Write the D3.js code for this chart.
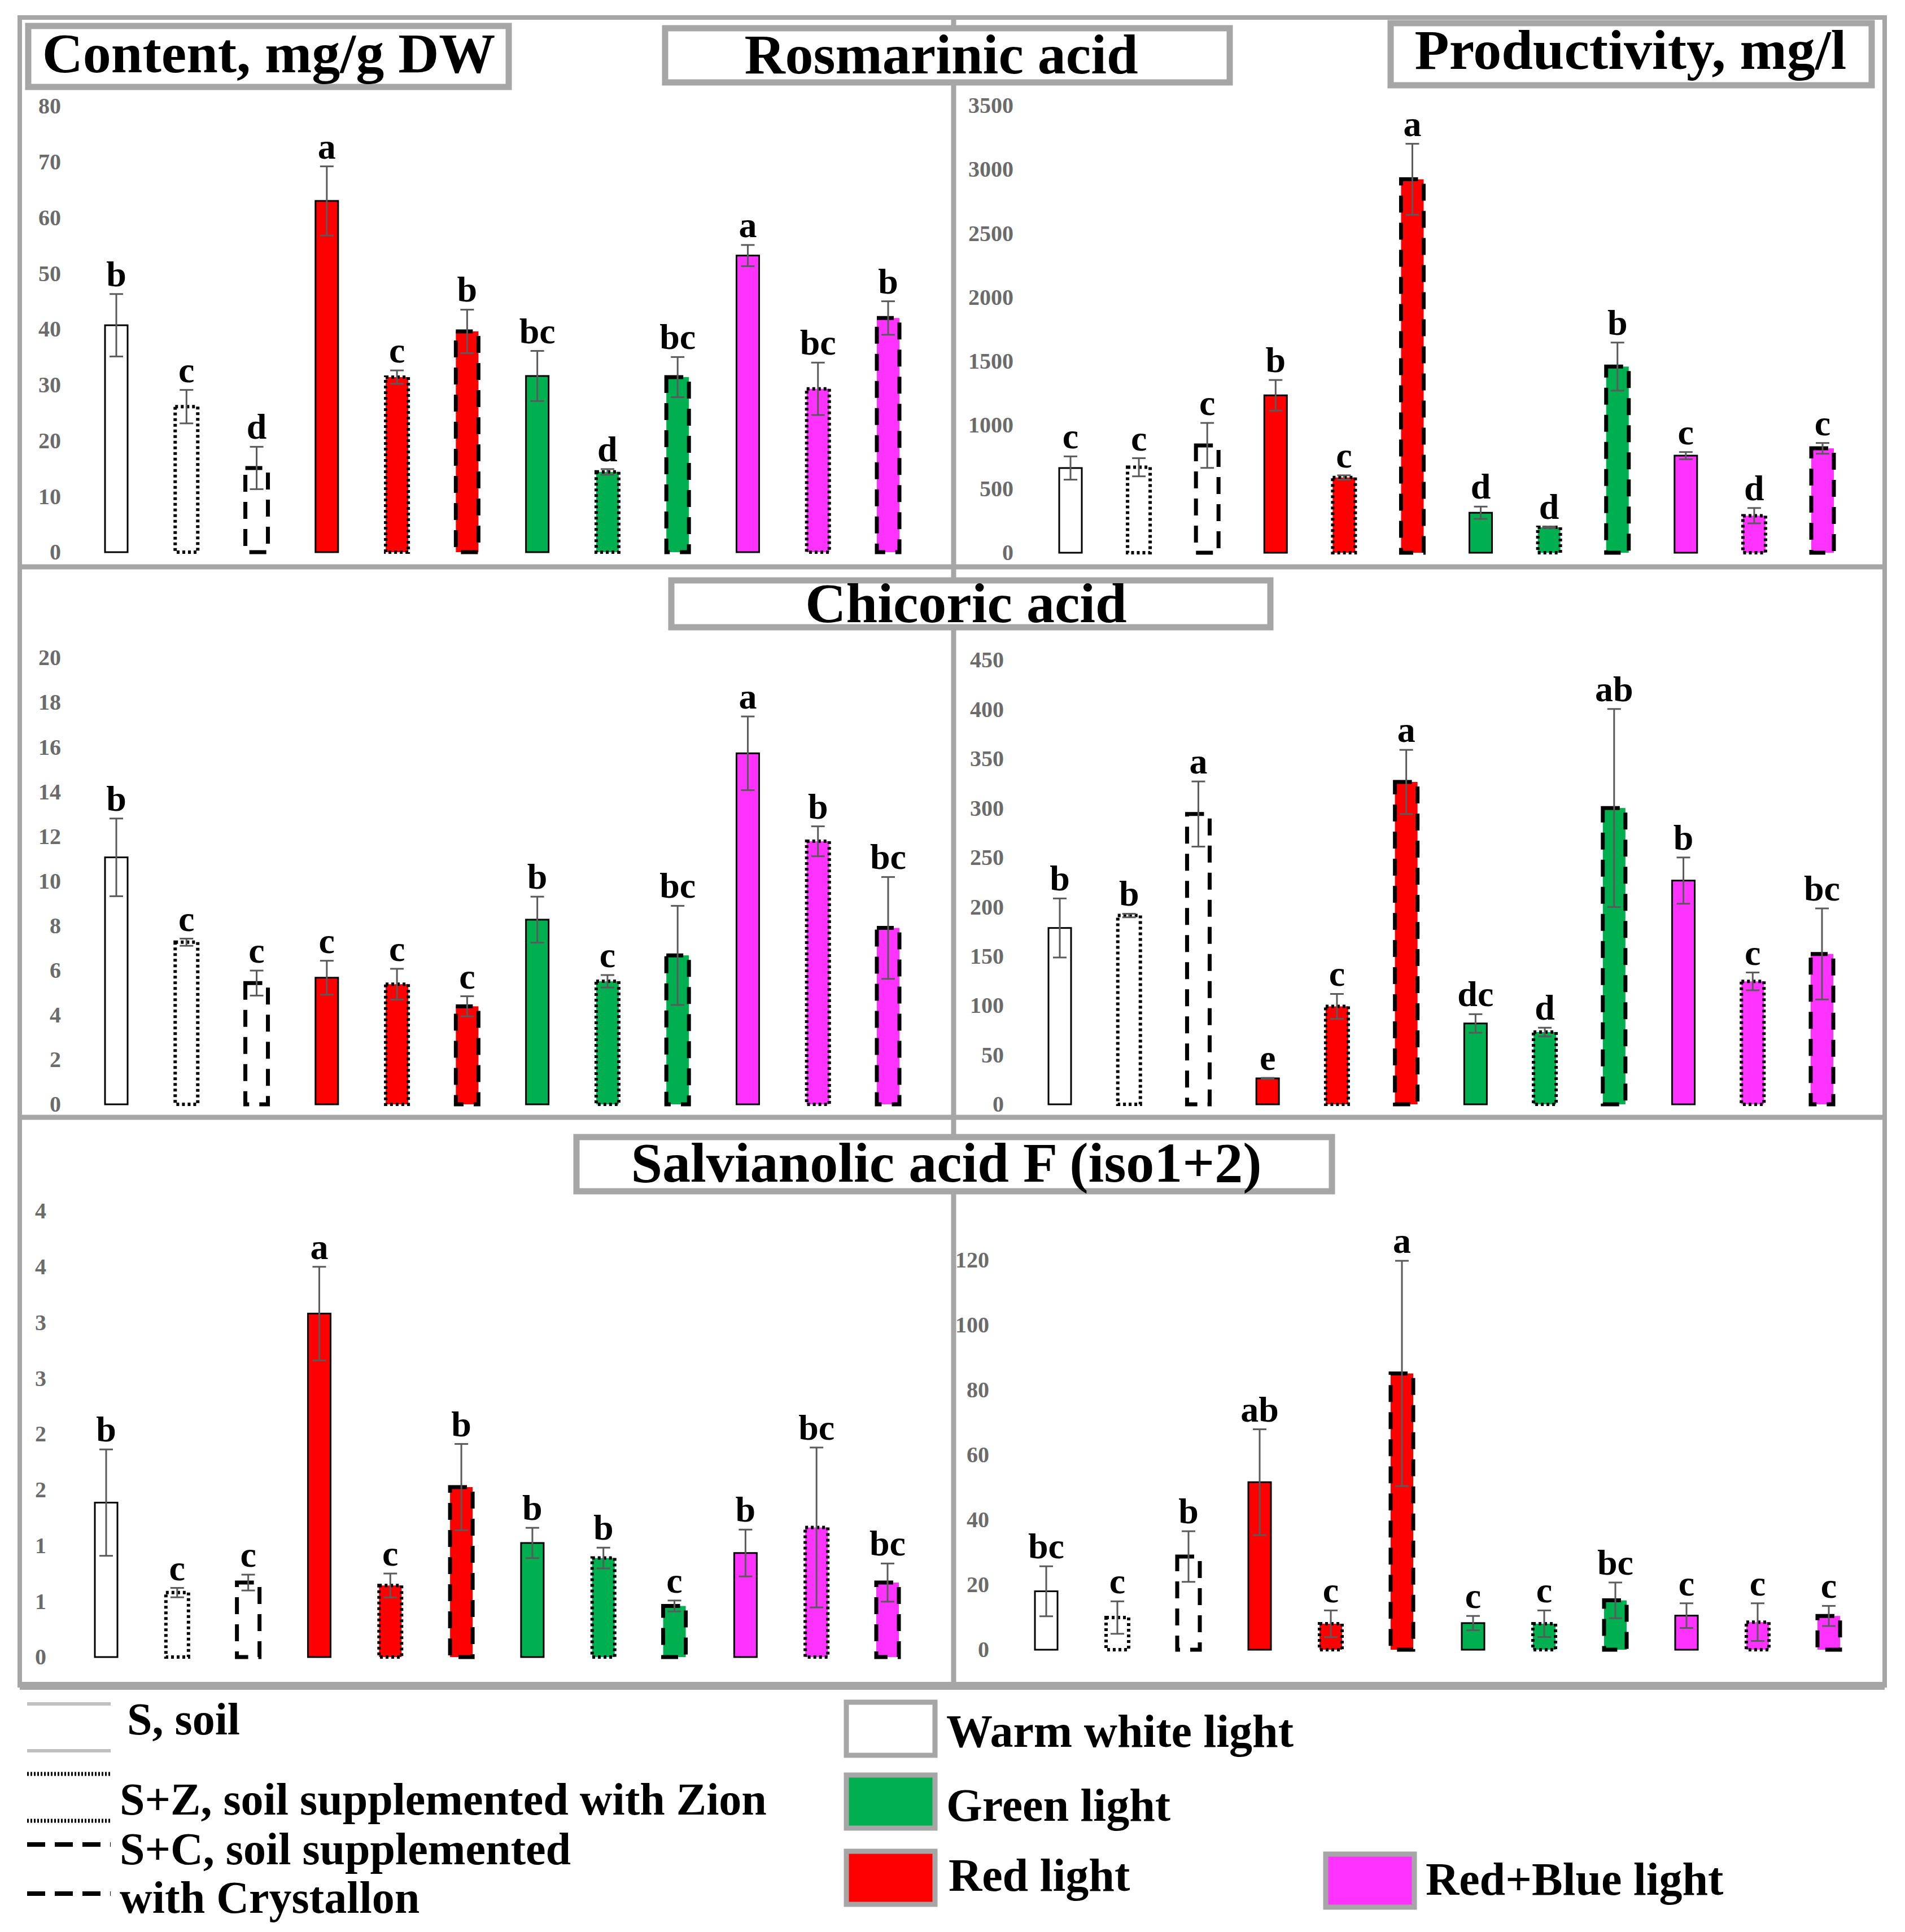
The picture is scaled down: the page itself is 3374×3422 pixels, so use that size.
<!DOCTYPE html>
<html>
<head>
<meta charset="utf-8">
<script src="https://cdn.jsdelivr.net/npm/d3@7"></script>
<style>
body { margin: 0; background: #fff; }
svg text { font-family: "Liberation Serif", "Times New Roman", serif; }
</style>
</head>
<body>
<div id="chart"></div>
<script>
// 12 treatments: light x substrate
var categories = ["WW S", "WW S+Z", "WW S+C", "R S", "R S+Z", "R S+C",
                  "G S", "G S+Z", "G S+C", "RB S", "RB S+Z", "RB S+C"];
var barLight = ["white", "white", "white", "red", "red", "red",
                "green", "green", "green", "redblue", "redblue", "redblue"];
var barSubstrate = ["S", "S+Z", "S+C", "S", "S+Z", "S+C",
                    "S", "S+Z", "S+C", "S", "S+Z", "S+C"];

// Rosmarinic acid
var raContent = [40.7, 26.1, 15.1, 63.0, 31.4, 39.6, 31.6, 14.4, 31.4, 53.2, 29.3, 42.0];
var raContentErr = [5.6, 3.0, 3.8, 6.2, 1.2, 3.9, 4.5, 0.5, 3.6, 1.9, 4.7, 3.0];
var raContentLetters = ["b", "c", "d", "a", "c", "b", "bc", "d", "bc", "a", "bc", "b"];
var raContentTicks = [0, 10, 20, 30, 40, 50, 60, 70, 80];

var raProd = [663, 669, 840, 1232, 589, 2923, 313, 199, 1457, 760, 290, 817];
var raProdErr = [91, 71, 176, 120, 17, 278, 48, 6, 188, 28, 60, 42];
var raProdLetters = ["c", "c", "c", "b", "c", "a", "d", "d", "b", "c", "d", "c"];
var raProdTicks = [0, 500, 1000, 1500, 2000, 2500, 3000, 3500];

// Chicoric acid
var caContent = [11.06, 7.26, 5.43, 5.67, 5.38, 4.39, 8.27, 5.51, 6.67, 15.72, 11.78, 7.90];
var caContentErr = [1.74, 0.16, 0.56, 0.76, 0.69, 0.45, 1.03, 0.28, 2.22, 1.65, 0.67, 2.28];
var caContentLetters = ["b", "c", "c", "c", "c", "c", "b", "c", "bc", "a", "b", "bc"];
var caContentTicks = [0, 2, 4, 6, 8, 10, 12, 14, 16, 18, 20];

var caProd = [178.6, 191.2, 294, 26.3, 99.2, 326.5, 81.9, 73.2, 300.1, 226.6, 124.5, 152.3];
var caProdErr = [29.9, 1.8, 33, 0.5, 12.6, 32.5, 9.4, 4.4, 100.3, 23.4, 9.0, 46.1];
var caProdLetters = ["b", "b", "a", "e", "c", "a", "dc", "d", "ab", "b", "c", "bc"];
var caProdTicks = [0, 50, 100, 150, 200, 250, 300, 350, 400, 450];

// Salvianolic acid F (iso1+2)
var saContent = [1.385, 0.578, 0.668, 3.08, 0.642, 1.524, 1.023, 0.888, 0.458, 0.933, 1.162, 0.668];
var saContentErr = [0.477, 0.042, 0.071, 0.42, 0.107, 0.387, 0.136, 0.093, 0.049, 0.21, 0.717, 0.171];
var saContentLetters = ["b", "c", "c", "a", "c", "b", "b", "b", "c", "b", "bc", "bc"];
var saContentTicks = [0, 0.5, 1, 1.5, 2, 2.5, 3, 3.5, 4];
var saContentTickLabels = ["0", "1", "1", "2", "2", "3", "3", "4", "4"];

var saProd = [18.0, 9.9, 28.7, 51.6, 8.0, 85.1, 8.2, 8.0, 15.2, 10.5, 8.5, 10.4];
var saProdErr = [7.7, 5.0, 7.8, 16.3, 4.1, 34.7, 2.2, 4.1, 5.5, 3.8, 5.8, 3.1];
var saProdLetters = ["bc", "c", "b", "ab", "c", "a", "c", "c", "bc", "c", "c", "c"];
var saProdTicks = [0, 20, 40, 60, 80, 100, 120];

var lightNames = ["Warm white light", "Green light", "Red light", "Red+Blue light"];
var lightKeys = ["white", "green", "red", "redblue"];
var substrateNames = ["S, soil", "S+Z, soil supplemented with Zion", "S+C, soil supplemented", "with Crystallon"];

var colors = { white: "#ffffff", red: "#ff0000", green: "#00b050", redblue: "#ff33ff" };
var strokes = {
    "S":   { dash: null,    w: 3 },
    "S+Z": { dash: "5,5",   w: 6 },
    "S+C": { dash: "30,18", w: 7 }
};
var frameGray = "#a6a6a6";

var W = 3374, H = 3422;
var svg = d3.select("#chart").append("svg")
    .attr("width", W)
    .attr("height", H)
    .attr("viewBox", "0 0 " + W + " " + H);

svg.append("rect").attr("width", W).attr("height", H).attr("fill", "#fff");

// frame and dividers
var frame = svg.append("g").attr("stroke", frameGray).attr("fill", "none");
frame.append("rect").attr("x", 35).attr("y", 31).attr("width", 3303).attr("height", 2954).attr("stroke-width", 8);
frame.append("line").attr("x1", 35).attr("x2", 3338).attr("y1", 2986).attr("y2", 2986).attr("stroke-width", 14);
frame.append("line").attr("x1", 1689).attr("x2", 1689).attr("y1", 31).attr("y2", 2985).attr("stroke-width", 9);
frame.append("line").attr("x1", 35).attr("x2", 3338).attr("y1", 1004).attr("y2", 1004).attr("stroke-width", 9);
frame.append("line").attr("x1", 35).attr("x2", 3338).attr("y1", 1979).attr("y2", 1979).attr("stroke-width", 9);

function drawPanel(p) {
    var x = d3.scalePoint().domain(categories).range([p.x0, p.x1]);
    var y = d3.scaleLinear().domain(p.domain).range([p.yBottom, p.yTop]);
    var g = svg.append("g");
    var bw = 40;

    // y axis labels only
    var ax = g.append("g")
        .attr("transform", "translate(" + p.tickX + ",0)")
        .call(d3.axisLeft(y).tickValues(p.ticks).tickSize(0).tickPadding(0)
            .tickFormat(function (d, i) { return p.tickLabels ? p.tickLabels[i] : d; }));
    ax.select(".domain").remove();
    ax.selectAll("text")
        .attr("font-family", "Liberation Serif, serif")
        .attr("font-size", 40)
        .attr("font-weight", "bold")
        .attr("fill", "#6b6b6b");

    // bars
    g.selectAll(".bar")
        .data(categories)
        .enter().append("rect")
        .attr("class", "bar")
        .attr("x", function (d) { return x(d) - bw / 2; })
        .attr("y", function (d, i) { return y(p.values[i]); })
        .attr("width", bw)
        .attr("height", function (d, i) { return p.yBottom - y(p.values[i]); })
        .attr("fill", function (d, i) { return colors[barLight[i]]; })
        .attr("stroke", "#000")
        .attr("stroke-width", function (d, i) { return strokes[barSubstrate[i]].w; })
        .attr("stroke-dasharray", function (d, i) { return strokes[barSubstrate[i]].dash; });

    // error bars
    var eb = g.selectAll(".err")
        .data(categories)
        .enter().append("g")
        .attr("class", "err")
        .attr("stroke", "#5a5a5a")
        .attr("stroke-width", 3);
    eb.append("line")
        .attr("x1", function (d) { return x(d); })
        .attr("x2", function (d) { return x(d); })
        .attr("y1", function (d, i) { return y(p.values[i] + p.err[i]); })
        .attr("y2", function (d, i) { return y(p.values[i] - p.err[i]); });
    eb.append("line")
        .attr("x1", function (d) { return x(d) - 12; })
        .attr("x2", function (d) { return x(d) + 12; })
        .attr("y1", function (d, i) { return y(p.values[i] + p.err[i]); })
        .attr("y2", function (d, i) { return y(p.values[i] + p.err[i]); });
    eb.append("line")
        .attr("x1", function (d) { return x(d) - 12; })
        .attr("x2", function (d) { return x(d) + 12; })
        .attr("y1", function (d, i) { return y(p.values[i] - p.err[i]); })
        .attr("y2", function (d, i) { return y(p.values[i] - p.err[i]); });

    // significance letters
    g.selectAll(".letter")
        .data(categories)
        .enter().append("text")
        .attr("class", "letter")
        .attr("x", function (d) { return x(d); })
        .attr("y", function (d, i) { return y(p.values[i] + p.err[i]) - 14; })
        .attr("text-anchor", "middle")
        .attr("font-size", 64)
        .attr("font-weight", "bold")
        .attr("fill", "#000")
        .text(function (d, i) { return p.letters[i]; });
}

drawPanel({ values: raContent, err: raContentErr, letters: raContentLetters, ticks: raContentTicks,
    domain: [0, 80], x0: 206, x1: 1573, yBottom: 978, yTop: 188, tickX: 108 });
drawPanel({ values: raProd, err: raProdErr, letters: raProdLetters, ticks: raProdTicks,
    domain: [0, 3500], x0: 1896, x1: 3228, yBottom: 979, yTop: 187, tickX: 1795 });
drawPanel({ values: caContent, err: caContentErr, letters: caContentLetters, ticks: caContentTicks,
    domain: [0, 20], x0: 206, x1: 1573, yBottom: 1956, yTop: 1165, tickX: 108 });
drawPanel({ values: caProd, err: caProdErr, letters: caProdLetters, ticks: caProdTicks,
    domain: [0, 450], x0: 1877, x1: 3227, yBottom: 1956, yTop: 1169, tickX: 1778 });
drawPanel({ values: saContent, err: saContentErr, letters: saContentLetters, ticks: saContentTicks,
    tickLabels: saContentTickLabels,
    domain: [0, 4], x0: 188, x1: 1572, yBottom: 2935, yTop: 2145, tickX: 82 });
drawPanel({ values: saProd, err: saProdErr, letters: saProdLetters, ticks: saProdTicks,
    domain: [0, 120], x0: 1853, x1: 3239, yBottom: 2922, yTop: 2232, tickX: 1752 });

// title boxes
function titleBox(x, y, w, h, label, cx, base) {
    svg.append("rect")
        .attr("x", x).attr("y", y).attr("width", w).attr("height", h)
        .attr("fill", "#fff").attr("stroke", frameGray).attr("stroke-width", 11);
    svg.append("text")
        .attr("x", cx).attr("y", base)
        .attr("text-anchor", "middle")
        .attr("font-size", 100)
        .attr("font-weight", "bold")
        .text(label);
}
titleBox(50, 46, 851, 108, "Content, mg/g DW", 476, 128);
titleBox(1178, 50, 1000, 96, "Rosmarinic acid", 1667, 130);
titleBox(2463, 41, 852, 110, "Productivity, mg/l", 2888, 122);
titleBox(1189, 1028, 1061, 83, "Chicoric acid", 1711, 1102);
titleBox(1021, 2014, 1338, 96, "Salvianolic acid F (iso1+2)", 1676, 2093);

// legend: substrate line styles
var lg = svg.append("g");
lg.selectAll(".sline")
    .data([3018, 3101]).enter().append("line")
    .attr("x1", 48).attr("x2", 196).attr("y1", function (d) { return d; }).attr("y2", function (d) { return d; })
    .attr("stroke", "#c0c0c0").attr("stroke-width", 6);
lg.selectAll(".zline")
    .data([3142, 3225]).enter().append("line")
    .attr("x1", 48).attr("x2", 196).attr("y1", function (d) { return d; }).attr("y2", function (d) { return d; })
    .attr("stroke", "#000").attr("stroke-width", 7).attr("stroke-dasharray", "3,3");
lg.selectAll(".cline")
    .data([3267, 3354]).enter().append("line")
    .attr("x1", 48).attr("x2", 196).attr("y1", function (d) { return d; }).attr("y2", function (d) { return d; })
    .attr("stroke", "#000").attr("stroke-width", 8).attr("stroke-dasharray", "32,17");

var subPos = [[225, 3072], [212, 3214], [212, 3302], [212, 3388]];
lg.selectAll(".stext")
    .data(substrateNames).enter().append("text")
    .attr("x", function (d, i) { return subPos[i][0]; })
    .attr("y", function (d, i) { return subPos[i][1]; })
    .attr("font-size", 80)
    .attr("font-weight", "bold")
    .text(function (d) { return d; });

// legend: light colours
var boxPos = [[1499, 3015, 1676, 3094], [1499, 3144, 1676, 3225], [1499, 3279, 1680, 3349], [2348, 3284, 2525, 3356]];
var lb = lg.selectAll(".lbox")
    .data(lightNames).enter().append("g");
lb.append("rect")
    .attr("x", function (d, i) { return boxPos[i][0]; })
    .attr("y", function (d, i) { return boxPos[i][1]; })
    .attr("width", 157).attr("height", 94)
    .attr("fill", function (d, i) { return colors[lightKeys[i]]; })
    .attr("stroke", frameGray).attr("stroke-width", 9);
lb.append("text")
    .attr("x", function (d, i) { return boxPos[i][2]; })
    .attr("y", function (d, i) { return boxPos[i][3]; })
    .attr("font-size", 82)
    .attr("font-weight", "bold")
    .text(function (d) { return d; });
</script>
</body>
</html>
